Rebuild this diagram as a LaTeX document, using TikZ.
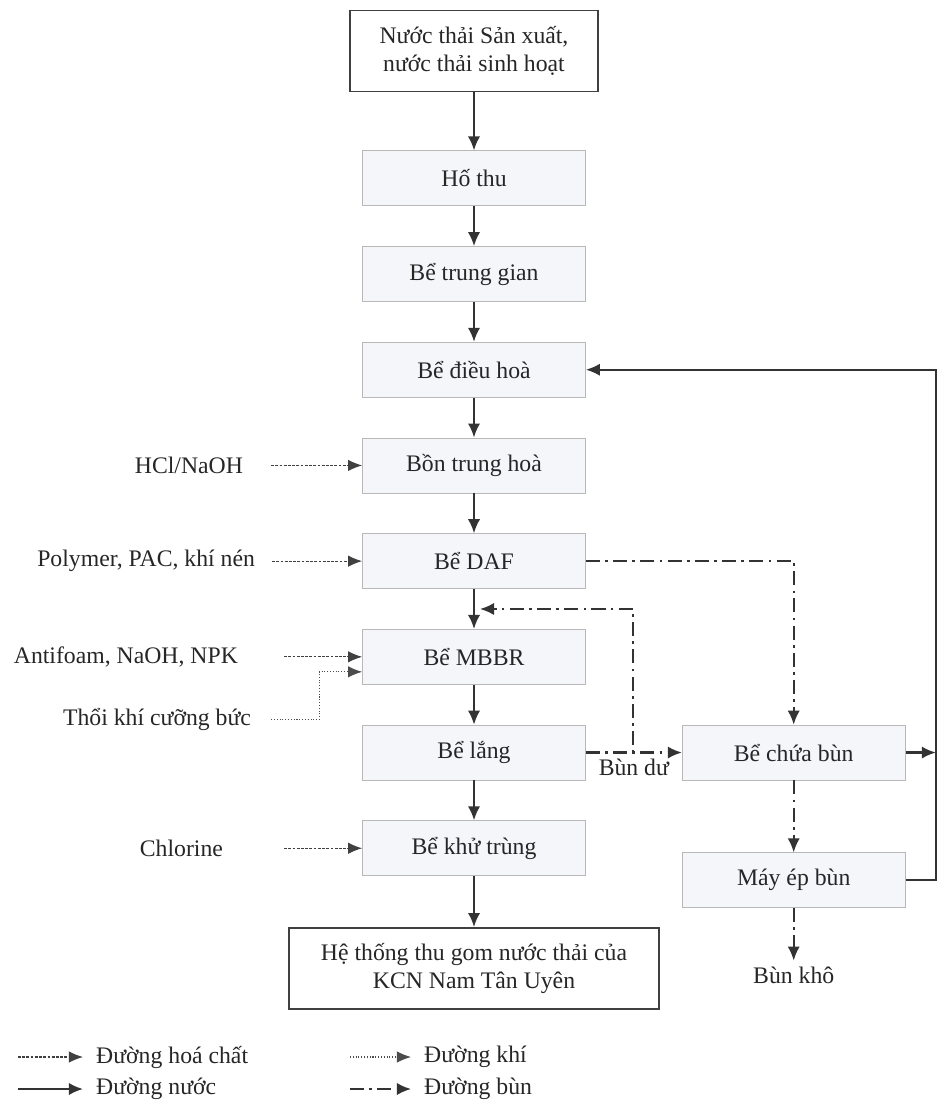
\documentclass[tikz,border=0pt]{standalone}
\usepackage{fontspec}
\setmainfont{Liberation Serif}
\usepackage{tikz}
\usetikzlibrary{arrows.meta, positioning, calc}
\definecolor{tankfill}{RGB}{244,246,249}
\tikzstyle{tank} = [rectangle, minimum width=4.46cm, minimum height=1.1cm, text centered, draw=black!28, fill=tankfill]
\tikzstyle{terminal} = [rectangle, minimum height=1.62cm, align=center, draw=black!75, line width=1.1pt, fill=white]
\tikzstyle{chemlabel} = [text centered]
\tikzstyle{water} = [line width=1.2pt,->,>={Latex[length=8pt,width=7pt]}, draw=black!80]
\tikzstyle{chem} = [semithick,->,>={Latex[length=8pt,width=6.5pt]}, dash pattern=on 1.6pt off 0.8pt, draw=black!75]
\tikzstyle{gas} = [semithick,->,>={Latex[length=8pt,width=6.5pt]}, densely dotted, draw=black!70]
\tikzstyle{sludge} = [line width=1.2pt,->,>={Latex[length=8pt,width=7pt]}, dash pattern=on 8pt off 3pt on 1.5pt off 3pt, draw=black!80]

\begin{document}
\begin{tikzpicture}[node distance=0.8cm, font=\fontsize{13.5}{16}\selectfont, text=black!85]
  \useasboundingbox (0,0) rectangle (18.74,-22.06);

  % main water line
  \node (source) [terminal, minimum width=4.96cm] at (9.48,-1.02) {Nước thải Sản xuất,\\nước thải sinh hoạt};
  \node (hothu) [tank, below=1.16cm of source] {Hố thu};
  \node (trunggian) [tank, below=of hothu] {Bể trung gian};
  \node (dieuhoa) [tank, below=of trunggian] {Bể điều hoà};
  \node (trunghoa) [tank, below=of dieuhoa] {Bồn trung hoà};
  \node (daf) [tank, below=of trunghoa] {Bể DAF};
  \node (mbbr) [tank, below=of daf] {Bể MBBR};
  \node (lang) [tank, below=of mbbr] {Bể lắng};
  \node (khutrung) [tank, below=of lang] {Bể khử trùng};
  \node (outlet) [terminal, minimum width=7.4cm, below=1.02cm of khutrung] {Hệ thống thu gom nước thải của\\KCN Nam Tân Uyên};

  % sludge line
  \node (chuabun) [tank, right=1.92cm of lang] {Bể chứa bùn};
  \node (mayep) [tank, below=1.44cm of chuabun] {Máy ép bùn};
  \node (bunkho) [chemlabel, below=1.05cm of mayep] {Bùn khô};

  % chemicals
  \node (hcl) [chemlabel, left=2.26cm of trunghoa] {HCl/NaOH};
  \node (polymer) [chemlabel, left=2.02cm of daf] {Polymer, PAC, khí nén};
  \node (antifoam) [chemlabel, left=2.36cm of mbbr] {Antifoam, NaOH, NPK};
  \node (thoikhi) [chemlabel, below=1.26cm of antifoam.east, anchor=east, xshift=0.26cm] {Thổi khí cưỡng bức};
  \node (chlorine) [chemlabel, left=2.66cm of khutrung] {Chlorine};

  \coordinate (edge) at ($(dieuhoa.east)+(7.0,0)$);
  \coordinate (recycle) at ([xshift=0.12cm]$(daf.south)!0.5!(mbbr.north)$);

  \draw[water] (source) -- (hothu);
  \draw[water] (hothu) -- (trunggian);
  \draw[water] (trunggian) -- (dieuhoa);
  \draw[water] (dieuhoa) -- (trunghoa);
  \draw[water] (trunghoa) -- (daf);
  \draw[water] (daf) -- (mbbr);
  \draw[water] (mbbr) -- (lang);
  \draw[water] (lang) -- (khutrung);
  \draw[water] (khutrung) -- (outlet);
  \draw[water] (mayep.east) -| (edge) -- (dieuhoa.east);
  \draw[water] (chuabun.east) -- (chuabun.east -| edge);

  \draw[chem, shorten <=0.44cm] (hcl.east) -- (trunghoa.west);
  \draw[chem, shorten <=0.22cm] (polymer.east) -- (daf.west);
  \draw[chem, shorten <=0.8cm] (antifoam.east) -- (mbbr.west);
  \draw[gas] ([xshift=0.28cm]thoikhi.east) -- ++(0.96,0) |- ([yshift=-0.3cm]mbbr.west);
  \draw[chem, shorten <=1.1cm] (chlorine.east) -- (khutrung.west);

  \draw[sludge] (daf.east) -| (chuabun.north);
  \draw[sludge] (lang.east) -- node[below] {Bùn dư} (chuabun.west);
  \draw[sludge] (lang.east) -- ++(0.94,0) |- (recycle);
  \draw[sludge] (chuabun) -- (mayep);
  \draw[sludge] (mayep) -- (bunkho);

  % legend
  \coordinate (lgchem) at (0.36,-21.14);
  \coordinate (lgwater) at (0.36,-21.78);
  \coordinate (lggas) at (7.0,-21.14);
  \coordinate (lgsludge) at (7.0,-21.78);
  \node (tchem) [anchor=west] at (1.8,-21.14) {Đường hoá chất};
  \node (twater) [anchor=west] at (1.8,-21.78) {Đường nước};
  \node (tgas) [anchor=west] at (8.36,-21.14) {Đường khí};
  \node (tsludge) [anchor=west] at (8.36,-21.78) {Đường bùn};
  \draw[chem, shorten >=0.14cm] (lgchem) -- (tchem.west);
  \draw[water, shorten >=0.14cm] (lgwater) -- (twater.west);
  \draw[gas, shorten >=0.14cm] (lggas) -- (tgas.west);
  \draw[sludge, shorten >=0.14cm] (lgsludge) -- (tsludge.west);
\end{tikzpicture}
\end{document}
